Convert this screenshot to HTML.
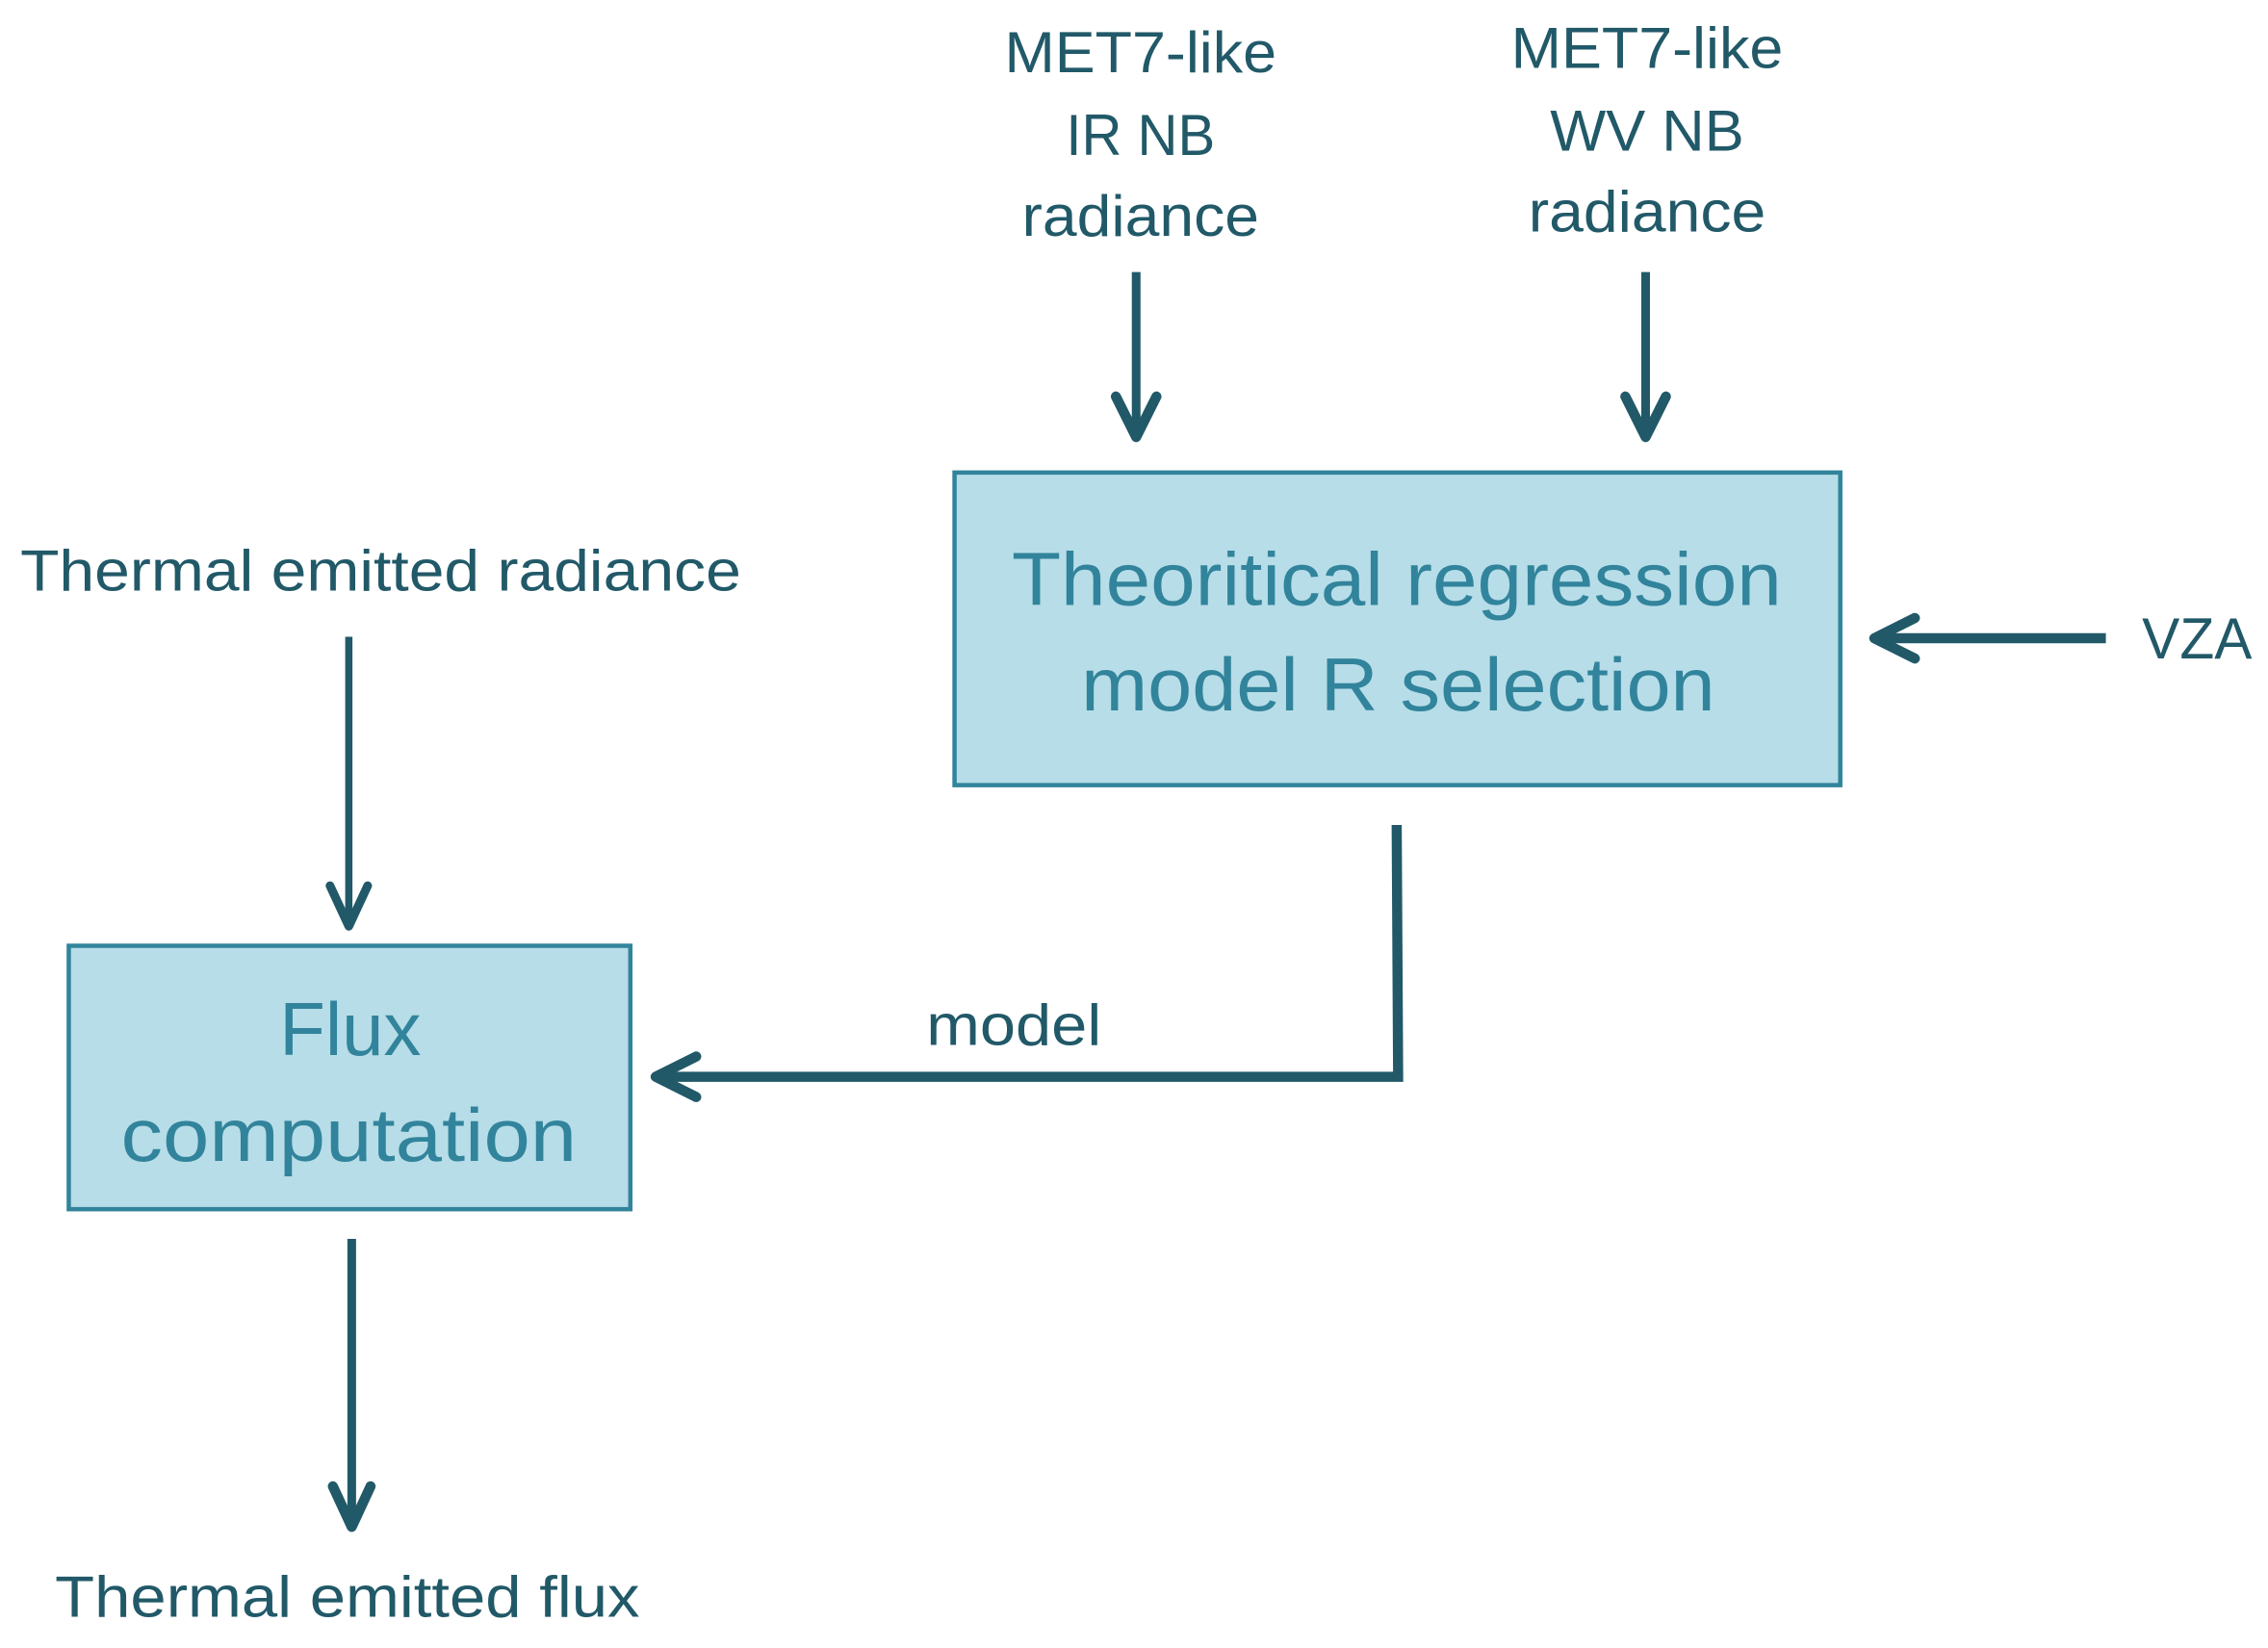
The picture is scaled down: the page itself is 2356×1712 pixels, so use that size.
<!DOCTYPE html>
<html><head><meta charset="utf-8"><style>
html,body{margin:0;padding:0;background:#fff;}
svg{display:block;}
text{font-family:"Liberation Sans",sans-serif;}
</style></head><body>
<svg width="2356" height="1712" viewBox="0 0 1567 1138.7" xmlns="http://www.w3.org/2000/svg">
<rect x="0" y="0" width="1567" height="1139" fill="#fff"/>
<rect x="659.5" y="326.5" width="612" height="216" fill="#b7dde8" stroke="#31849b" stroke-width="3"/>
<rect x="47.5" y="653.5" width="388" height="182" fill="#b7dde8" stroke="#31849b" stroke-width="3"/>
<g fill="#31849b" font-size="52" text-anchor="middle">
<text x="965" y="418" textLength="532" lengthAdjust="spacingAndGlyphs">Theoritical regression</text>
<text x="966" y="491" textLength="438" lengthAdjust="spacingAndGlyphs">model R selection</text>
<text x="242" y="729" textLength="98" lengthAdjust="spacingAndGlyphs">Flux</text>
<text x="241" y="802" textLength="315" lengthAdjust="spacingAndGlyphs">computation</text>
</g>
<g fill="#215968" font-size="40">
<text x="788" y="50" text-anchor="middle" textLength="188" lengthAdjust="spacingAndGlyphs">MET7-like</text>
<text x="788" y="107" text-anchor="middle" textLength="103" lengthAdjust="spacingAndGlyphs">IR NB</text>
<text x="788" y="163" text-anchor="middle" textLength="164" lengthAdjust="spacingAndGlyphs">radiance</text>
<text x="1138" y="47" text-anchor="middle" textLength="188" lengthAdjust="spacingAndGlyphs">MET7-like</text>
<text x="1138" y="104" text-anchor="middle" textLength="134" lengthAdjust="spacingAndGlyphs">WV NB</text>
<text x="1138" y="160" text-anchor="middle" textLength="164" lengthAdjust="spacingAndGlyphs">radiance</text>
<text x="1480" y="455" textLength="76" lengthAdjust="spacingAndGlyphs">VZA</text>
<text x="14" y="408" textLength="498" lengthAdjust="spacingAndGlyphs">Thermal emitted radiance</text>
<text x="640" y="722" textLength="121" lengthAdjust="spacingAndGlyphs">model</text>
<text x="38" y="1117" textLength="404" lengthAdjust="spacingAndGlyphs">Thermal emitted flux</text>
</g>
<g stroke="#215968" fill="none" stroke-linecap="butt">
<line x1="785" y1="188" x2="785" y2="302" stroke-width="6"/>
<polyline points="771,274 785,302 799,274" stroke-width="7" stroke-linejoin="round" stroke-linecap="round"/>
<line x1="1137" y1="188" x2="1137" y2="302" stroke-width="6"/>
<polyline points="1123,274 1137,302 1151,274" stroke-width="7" stroke-linejoin="round" stroke-linecap="round"/>
<line x1="1455" y1="441" x2="1295" y2="441" stroke-width="7"/>
<polyline points="1323,427 1295,441 1323,455" stroke-width="7" stroke-linejoin="round" stroke-linecap="round"/>
<line x1="241" y1="440" x2="241" y2="640" stroke-width="5"/>
<polyline points="228,612 241,640 254,612" stroke-width="6" stroke-linejoin="round" stroke-linecap="round"/>
<polyline points="965,570 966,744 453,744" stroke-width="7" stroke-linejoin="miter"/>
<polyline points="481,730 453,744 481,758" stroke-width="7" stroke-linejoin="round" stroke-linecap="round"/>
<line x1="243" y1="856" x2="243" y2="1055" stroke-width="6"/>
<polyline points="230,1027 243,1055 256,1027" stroke-width="7" stroke-linejoin="round" stroke-linecap="round"/>
</g>
</svg>
</body></html>
